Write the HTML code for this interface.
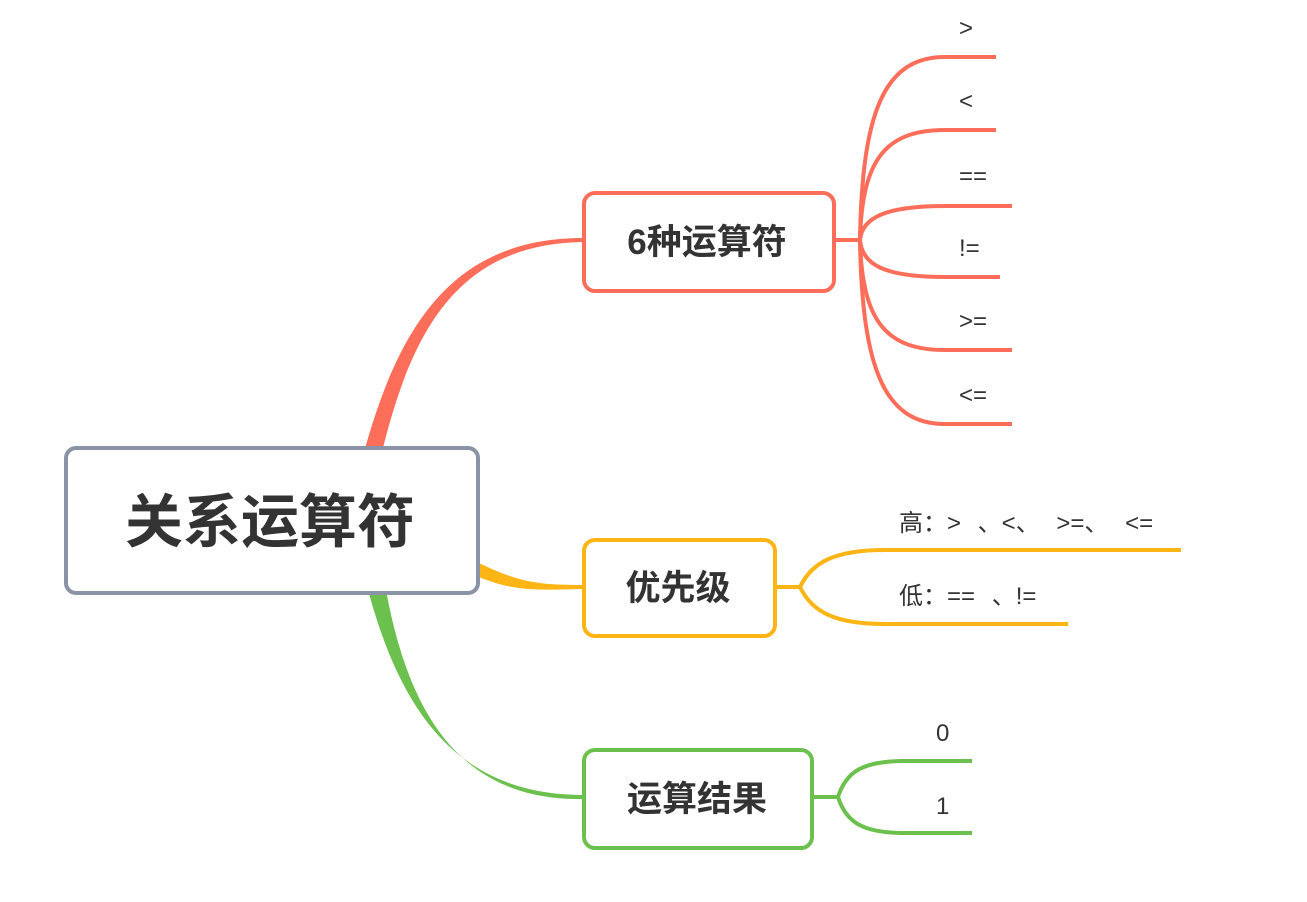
<!DOCTYPE html>
<html><head><meta charset="utf-8"><style>
html,body{margin:0;padding:0;background:#fff;}
svg{display:block;}
text{font-family:"Liberation Sans","Noto Sans CJK SC",sans-serif;fill:#333;}
</style></head><body>
<svg width="1307" height="902" viewBox="0 0 1307 902" xmlns="http://www.w3.org/2000/svg">
<!-- root connectors -->
<path d="M364,452 C398,330 450,238 583,238 L583,242 C458,244 412,330 382,452 Z" fill="#fc6e5a"/>
<path d="M479,563 C520,583 540,585 583,585 L583,589 C540,590 515,592 479,577 Z" fill="#fdb515"/>
<path d="M368,590 C398,700 450,795 583,795 L583,799 C458,801 408,710 386,590 Z" fill="#6cc04e"/>

<!-- node1 branches -->
<g fill="none" stroke="#fc6e5a" stroke-width="4">
<line x1="835" y1="240" x2="862" y2="240"/>
<path d="M860,240 C862,110 885,57 945,57 L996,57"/>
<path d="M860,240 C862,160 885,130 945,130 L996,130"/>
<path d="M860,240 C862,218 885,206 945,206 L1012,206"/>
<path d="M860,240 C862,265 885,277 945,277 L1000,277"/>
<path d="M860,240 C862,320 885,350 945,350 L1012,350"/>
<path d="M860,240 C862,370 885,424 945,424 L1012,424"/>
</g>
<!-- node2 branches -->
<g fill="none" stroke="#fdb515" stroke-width="4">
<line x1="776" y1="587" x2="802" y2="587"/>
<path d="M800,587 C812,562 835,550 885,550 L1181,550"/>
<path d="M800,587 C812,612 835,624 885,624 L1068,624"/>
</g>
<!-- node3 branches -->
<g fill="none" stroke="#6cc04e" stroke-width="4">
<line x1="813" y1="797" x2="840" y2="797"/>
<path d="M838,797 C846,772 862,761 905,761 L972,761"/>
<path d="M838,797 C846,822 862,833 905,833 L972,833"/>
</g>

<!-- boxes -->
<rect x="66" y="448" width="412" height="145" rx="10" fill="#fff" stroke="#8a94a6" stroke-width="4"/>
<text x="270" y="542" font-size="58" font-weight="bold" text-anchor="middle">关系运算符</text>

<rect x="584" y="193" width="250" height="98" rx="11" fill="#fff" stroke="#fc6e5a" stroke-width="4"/>
<text x="707" y="254" font-size="35" font-weight="bold" text-anchor="middle">6种运算符</text>

<rect x="584" y="540" width="191" height="96" rx="11" fill="#fff" stroke="#fdb515" stroke-width="4"/>
<text x="678" y="600" font-size="35" font-weight="bold" text-anchor="middle">优先级</text>

<rect x="584" y="750" width="228" height="98" rx="11" fill="#fff" stroke="#6cc04e" stroke-width="4"/>
<text x="697" y="811" font-size="35" font-weight="bold" text-anchor="middle">运算结果</text>

<!-- leaf labels -->
<g font-size="24">
<text x="959" y="36">&gt;</text>
<text x="959" y="109">&lt;</text>
<text x="959" y="184">==</text>
<text x="959" y="256">!=</text>
<text x="959" y="329">&gt;=</text>
<text x="959" y="403">&lt;=</text>
<text x="899" y="531" xml:space="preserve" word-spacing="10">高：&gt; 、&lt;、 &gt;=、 &lt;=</text>
<text x="899" y="604" xml:space="preserve" word-spacing="10">低：== 、!=</text>
<text x="936" y="741">0</text>
<text x="936" y="814">1</text>
</g>
</svg>
</body></html>
